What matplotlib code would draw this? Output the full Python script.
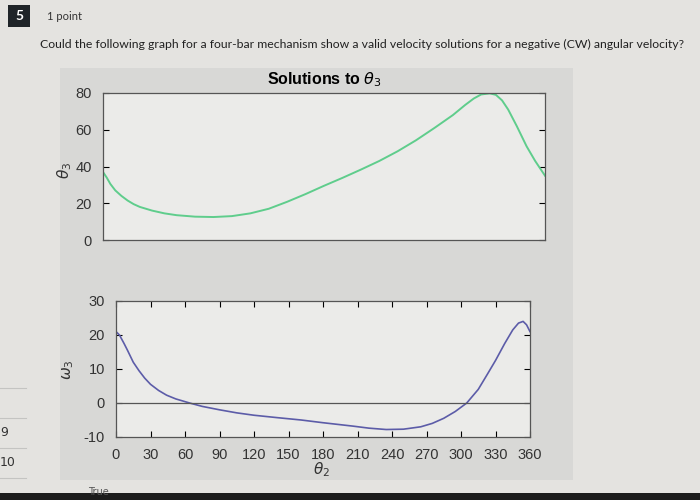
import numpy as np
import matplotlib.pyplot as plt
from matplotlib.patches import Rectangle

plt.rcParams["axes.unicode_minus"] = False

# values
theta2_top = [0, 3, 6, 10, 15, 20, 25, 30, 40, 50, 60, 75, 90, 105, 120, 135, 150, 165, 180,
              195, 210, 225, 240, 255, 270, 285, 295, 302, 308, 315, 320, 325, 330, 337, 345,
              352, 360]
theta3 = [37, 34, 30.5, 27, 24, 21.5, 19.5, 18, 16, 14.5, 13.5, 12.7, 12.5, 13, 14.5, 17, 20.8,
          25, 29.5, 33.8, 38.3, 43, 48.3, 54.3, 61, 68, 73.5, 77, 79.2, 79.8, 79, 76, 71, 62, 51,
          43, 35]

theta2_bot = [0, 3, 7, 10, 15, 20, 25, 30, 37, 44, 52, 64, 75, 90, 105, 120, 140, 161, 180,
              206, 220, 235, 250, 265, 275, 285, 295, 305, 315, 323, 330, 338, 345, 350, 354,
              357, 360]
omega3 = [21, 20, 17.5, 15.5, 12, 9.5, 7.3, 5.5, 3.7, 2.3, 1.2, 0, -1, -2, -2.9, -3.6, -4.3,
          -5, -5.8, -6.8, -7.4, -7.8, -7.7, -7, -6, -4.5, -2.5, 0, 4, 8.5, 12.5, 17.5, 21.5,
          23.5, 24, 23, 21]

question = ("Could the following graph for a four-bar mechanism show a valid velocity "
            "solutions for a negative (CW) angular velocity?")

W, H = 700, 500
fig = plt.figure(figsize=(7, 5), dpi=100, facecolor="#e4e3e0")

def box(l, t, r, b):
    return [l / W, 1 - b / H, (r - l) / W, (b - t) / H]

# grey figure panel behind the plots
fig.patches.append(Rectangle((60 / W, 1 - 480 / H), 513 / W, 412 / H,
                             transform=fig.transFigure, facecolor="#d8d8d6",
                             edgecolor="none", zorder=-5))
# dark bar at bottom, question number box
fig.patches.append(Rectangle((0, 0), 1, 7 / H, transform=fig.transFigure,
                             facecolor="#1c1c1c", edgecolor="none", zorder=-5))
fig.patches.append(Rectangle((8 / W, 1 - 27 / H), 22 / W, 22 / H, transform=fig.transFigure,
                             facecolor="#1f2428", edgecolor="none", zorder=-5))
fig.text(19 / W, 1 - 16 / H, "5", color="white", fontsize=10, fontweight="bold",
         ha="center", va="center", family="Lato")
fig.text(47 / W, 1 - 17 / H, "1 point", fontsize=8, color="#333333", va="center", family="Lato")
fig.text(40 / W, 1 - 44 / H, question, fontsize=8.8, color="#222222", va="center", family="Lato")
fig.text(0, 1 - 433 / H, "9", fontsize=9, color="#333333", va="center")
fig.text(0, 1 - 462 / H, "10", fontsize=9, color="#333333", va="center")
for yy in [388, 418, 448, 478]:
    fig.lines.append(plt.Line2D([0, 26 / W], [1 - yy / H, 1 - yy / H],
                                transform=fig.transFigure, color="#c4c4c2", lw=0.8))
fig.text(88 / W, 3 / H, "True", fontsize=7, color="#555555", va="bottom")

ax1 = fig.add_axes(box(103, 93, 545, 240))
ax1.plot(theta2_top, theta3, color="#5fcd8c", lw=1.4)
ax1.set_xlim(0, 360)
ax1.set_ylim(0, 80)
ax1.set_yticks([0, 20, 40, 60, 80])
ax1.set_xticks([])
ax1.tick_params(axis="y", direction="in", right=True, length=4, pad=8, labelcolor="#333333")
ax1.set_title(r"Solutions to $\theta_3$", fontsize=11.5, fontweight="bold",
              family="Liberation Sans", pad=6)

ax2 = fig.add_axes(box(116, 301, 530, 437))
ax2.plot(theta2_bot, omega3, color="#5c5ca8", lw=1.2)
ax2.axhline(0, color="#555555", lw=0.9)
ax2.set_xlim(0, 360)
ax2.set_ylim(-10, 30)
ax2.set_xticks(np.arange(0, 361, 30))
ax2.set_yticks([-10, 0, 10, 20, 30])
ax2.tick_params(direction="in", top=True, right=True, length=4, pad=8, labelcolor="#333333")

for ax in (ax1, ax2):
    ax.set_facecolor("#ebebe9")
    for s in ax.spines.values():
        s.set_color("#555555")
        s.set_linewidth(0.9)
    for lab in ax.get_xticklabels() + ax.get_yticklabels():
        lab.set_fontfamily("Liberation Sans")
        lab.set_fontsize(10.5)

fig.text(65 / W, 1 - 170 / H, r"$\theta_3$", rotation=90, fontsize=11, color="#333333",
         ha="center", va="center")
fig.text(68 / W, 1 - 370 / H, r"$\omega_3$", rotation=90, fontsize=11, color="#333333",
         ha="center", va="center")
fig.text(322 / W, 1 - 470 / H, r"$\theta_2$", fontsize=11, color="#333333",
         ha="center", va="center")

fig.savefig("out.png", dpi=100, facecolor=fig.get_facecolor())
